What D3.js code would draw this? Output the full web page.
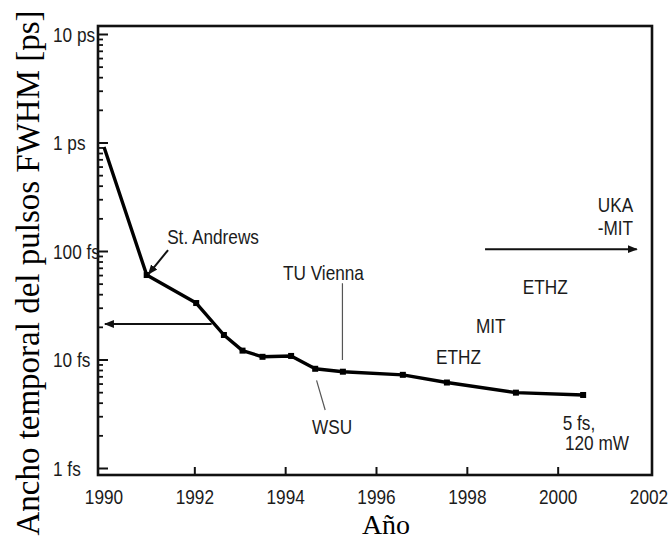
<!DOCTYPE html>
<html lang="es">
<head>
  <meta charset="UTF-8">
  <title>Ancho temporal del pulso vs año</title>
  <script src="https://cdn.jsdelivr.net/npm/d3@7"></script>
  <style>
    body { margin: 0; background: #fff; }
    .lbl { font-family: "Liberation Sans", Arial, sans-serif; font-size: 21px; fill: #1b1b1b; }
    .title { font-family: "Liberation Serif", "Times New Roman", serif; fill: #000; }
  </style>
</head>
<body>
<svg width="669" height="540"></svg>
<script>
// pulse width (fs) per year
var years  = [1990, 1990.94, 1992.03, 1992.64, 1993.05, 1993.49, 1994.12, 1994.65, 1995.26, 1996.58, 1997.55, 1999.07, 2000.55];
var widths = [920,  60.7,    33.5,    17,      12.2,    10.7,    10.9,    8.3,     7.8,     7.3,     6.2,     5.0,     4.76];

var xTicks = [1990, 1992, 1994, 1996, 1998, 2000, 2002];
var yTicks = [1, 10, 100, 1000, 10000];
var yTickLabels = ["1 fs", "10 fs", "100 fs", "1 ps", "10 ps"];

// annotation texts: [text, year, fs, anchor]
var notes = [
  ["St. Andrews", 1991.39, 136, "start"],
  ["TU Vienna", 1993.94, 63.4, "start"],
  ["WSU", 1994.58, 2.41, "start"],
  ["ETHZ", 1997.31, 10.7, "start"],
  ["MIT", 1998.19, 20.6, "start"],
  ["ETHZ", 1999.22, 47, "start"],
  ["UKA", 2001.65, 268, "end"],
  ["-MIT", 2001.65, 165, "end"],
  ["5 fs,", 2000.1, 2.63, "start"],
  ["120 mW", 2000.15, 1.72, "start"]
];
// arrows: [x1, y1, x2, y2] head at the second point
var arrows = [
  [1992.37, 21.5, 1990.02, 21.5],
  [1998.39, 105, 2001.73, 105],
  [1991.41, 103, 1990.98, 62]
];
// thin pointer lines
var pointers = [
  [1995.25, 51, 1995.25, 10],
  [1994.68, 6.5, 1994.87, 3.46]
];

var svg = d3.select("svg");
var x = d3.scaleLinear().domain([1990, 2002]).range([104, 649]);
var y = d3.scaleLog().domain([1, 10000]).range([468.5, 34.5]);
var frame = {left: 98, right: 652, top: 26, bottom: 475};
var squeeze = 0.82; // the scanned lettering is narrow

function narrow(sel, fx, fy) {
  sel.attr("class", "lbl")
     .attr("dy", "0.35em")
     .attr("transform", function(d, i) {
       return "translate(" + fx(d, i) + "," + fy(d, i) + ") scale(" + squeeze + ",1)";
     });
}

svg.append("defs").append("marker")
    .attr("id", "head")
    .attr("viewBox", "0 0 10 10")
    .attr("refX", 9).attr("refY", 5)
    .attr("markerWidth", 5).attr("markerHeight", 5)
    .attr("markerUnits", "strokeWidth")
    .attr("orient", "auto")
  .append("path").attr("d", "M0,1L10,5L0,9z").attr("fill", "#111");

// frame
svg.append("rect")
    .attr("x", frame.left).attr("y", frame.top)
    .attr("width", frame.right - frame.left).attr("height", frame.bottom - frame.top)
    .attr("fill", "none").attr("stroke", "#111").attr("stroke-width", 2.6);

// y ticks (major + minor), pointing inward
var minor = [];
yTicks.slice(0, -1).forEach(function(d) {
  for (var k = 2; k < 10; k++) minor.push(d * k);
});
svg.append("g").selectAll("line.minor").data(minor).enter().append("line")
    .attr("x1", frame.left).attr("x2", frame.left + 5)
    .attr("y1", function(d) { return y(d); }).attr("y2", function(d) { return y(d); })
    .attr("stroke", "#111").attr("stroke-width", 1.8);
svg.append("g").selectAll("line.major").data(yTicks).enter().append("line")
    .attr("x1", frame.left).attr("x2", frame.left + 10)
    .attr("y1", function(d) { return y(d); }).attr("y2", function(d) { return y(d); })
    .attr("stroke", "#111").attr("stroke-width", 2);
svg.append("g").selectAll("text").data(yTicks).enter().append("text")
    .call(narrow, function() { return 53; }, function(d) { return y(d); })
    .text(function(d, i) { return yTickLabels[i]; });

// x ticks
svg.append("g").selectAll("line").data(xTicks.slice(1, -1)).enter().append("line")
    .attr("x1", function(d) { return x(d); }).attr("x2", function(d) { return x(d); })
    .attr("y1", frame.bottom).attr("y2", frame.bottom - 8)
    .attr("stroke", "#111").attr("stroke-width", 2);
svg.append("g").selectAll("text").data(xTicks).enter().append("text")
    .call(narrow, function(d) { return x(d); }, function() { return 497; })
    .attr("text-anchor", "middle")
    .text(function(d) { return d; });

// data line
var pts = years.map(function(d, i) { return [d, widths[i]]; });
svg.append("path")
    .datum(pts)
    .attr("fill", "none").attr("stroke", "#000").attr("stroke-width", 3.4)
    .attr("stroke-linejoin", "round")
    .attr("d", d3.line().x(function(d) { return x(d[0]); }).y(function(d) { return y(d[1]); }));
svg.append("g").selectAll("rect").data(pts.slice(1)).enter().append("rect")
    .attr("x", function(d) { return x(d[0]) - 3; }).attr("y", function(d) { return y(d[1]) - 3; })
    .attr("width", 6).attr("height", 6).attr("fill", "#000");

// arrows
svg.append("g").selectAll("line").data(arrows).enter().append("line")
    .attr("x1", function(d) { return x(d[0]); }).attr("y1", function(d) { return y(d[1]); })
    .attr("x2", function(d) { return x(d[2]); }).attr("y2", function(d) { return y(d[3]); })
    .attr("stroke", "#111").attr("stroke-width", 2)
    .attr("marker-end", "url(#head)");

svg.append("g").selectAll("line").data(pointers).enter().append("line")
    .attr("x1", function(d) { return x(d[0]); }).attr("y1", function(d) { return y(d[1]); })
    .attr("x2", function(d) { return x(d[2]); }).attr("y2", function(d) { return y(d[3]); })
    .attr("stroke", "#555").attr("stroke-width", 1.2);

// annotation texts
svg.append("g").selectAll("text").data(notes).enter().append("text")
    .call(narrow, function(d) { return x(d[1]); }, function(d) { return y(d[2]); })
    .attr("text-anchor", function(d) { return d[3]; })
    .text(function(d) { return d[0]; });

// axis titles
svg.append("text")
    .attr("class", "title")
    .attr("transform", "translate(39,273) rotate(-90)")
    .attr("text-anchor", "middle")
    .style("font-size", "33px")
    .text("Ancho temporal del pulsos FWHM [ps]");
svg.append("text")
    .attr("class", "title")
    .attr("x", 386).attr("y", 534)
    .attr("text-anchor", "middle")
    .style("font-size", "28px")
    .text("Año");
</script>
</body>
</html>
